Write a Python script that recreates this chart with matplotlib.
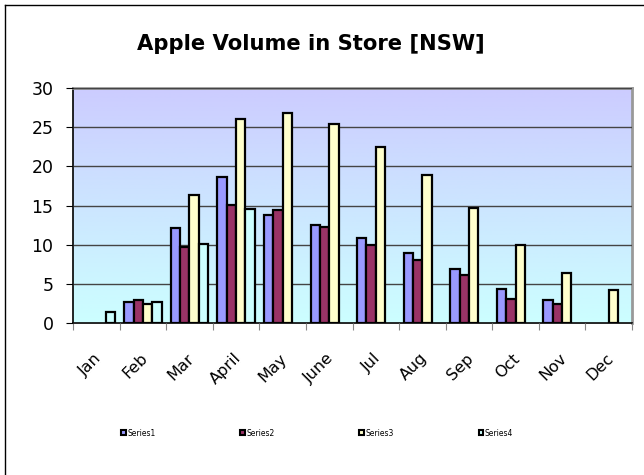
import numpy as np
import matplotlib
matplotlib.use("Agg")
import matplotlib.pyplot as plt
from matplotlib.colors import LinearSegmentedColormap
from matplotlib.patches import Patch

months = ["Jan", "Feb", "Mar", "April", "May", "June", "Jul", "Aug",
          "Sep", "Oct", "Nov", "Dec"]
nan = np.nan
series1 = [nan, 2.7, 12.1, 18.6, 13.8, 12.5, 10.8, 9.0, 6.9, 4.3, 3.0, nan]
series2 = [nan, 3.0, 9.7, 15.1, 14.4, 12.2, 10.0, 8.1, 6.1, 3.1, 2.4, nan]
series3 = [nan, 2.4, 16.4, 26.1, 26.8, 25.4, 22.5, 18.9, 14.7, 10.0, 6.4, 4.2]
series4 = [1.4, 2.7, 10.1, 14.5, nan, nan, nan, nan, nan, nan, nan, nan]
names = ["Series1", "Series2", "Series3", "Series4"]
colors = ["#9999FF", "#993366", "#FFFFCC", "#CCFFFF"]

fig = plt.figure(figsize=(6.44, 4.75), dpi=100)
ax = fig.add_axes([73 / 644, 1 - 323 / 475, (632 - 73) / 644, (323 - 88) / 475])

# gradient background of plot area
grad = LinearSegmentedColormap.from_list("bg", ["#CCFFFF", "#CCCCFF"])
ax.imshow(np.linspace(0, 1, 256).reshape(-1, 1), cmap=grad, aspect="auto",
          extent=[0, 12, 0, 30], origin="lower", zorder=0)

x = np.arange(len(months)) + 0.5
w = 0.2
for i, (vals, c) in enumerate(zip([series1, series2, series3, series4], colors)):
    ax.bar(x + (i - 1.5) * w, vals, width=w, color=c, edgecolor="black",
           linewidth=1.6, zorder=3)

ax.set_xlim(0, 12)
ax.set_ylim(0, 30)
ax.set_yticks(range(0, 31, 5))
ax.yaxis.grid(True, color="#444444", linewidth=1.0, zorder=1)
ax.set_axisbelow(False)
ax.tick_params(axis="y", labelsize=12.5, length=5, direction="out", pad=9)
ax.set_xticks(range(13))
ax.set_xticklabels([])
ax.tick_params(axis="x", length=5, direction="out", color="#888888")
for xi, m in zip(x, months):
    ax.text(xi + 0.05, -4.2, m, rotation=45, rotation_mode="anchor",
            ha="right", va="center", fontsize=11.5)

for side in ["top", "right"]:
    ax.spines[side].set_color("#999999")
    ax.spines[side].set_linewidth(2)
ax.spines["left"].set_linewidth(1.2)
ax.spines["bottom"].set_linewidth(1.2)

fig.text(311 / 644, 1 - 44 / 475, "Apple Volume in Store [NSW]",
         ha="center", va="center", fontsize=15.2, fontweight="bold")

handles = [Patch(facecolor=c, edgecolor="black", linewidth=1.5) for c in colors]
fig.legend(handles, names, loc="center", bbox_to_anchor=(317 / 644, 1 - 433 / 475),
           ncol=4, frameon=False, fontsize=5.5, handlelength=0.6, handleheight=0.6,
           handletextpad=0.2, columnspacing=11.1)

# chart area border (left and top visible)
fig.add_artist(plt.Line2D([5 / 644, 5 / 644], [0, 1 - 5 / 475], color="black",
                          linewidth=1, transform=fig.transFigure))
fig.add_artist(plt.Line2D([5 / 644, 1], [1 - 5 / 475, 1 - 5 / 475], color="black",
                          linewidth=1, transform=fig.transFigure))

fig.savefig("out.png", dpi=100)
